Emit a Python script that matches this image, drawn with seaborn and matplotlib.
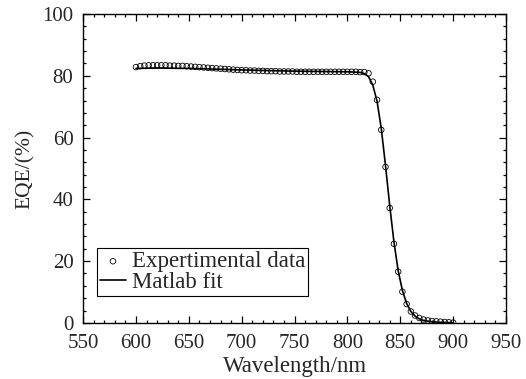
import numpy as np
import pandas as pd
import seaborn as sns
import matplotlib.pyplot as plt
from matplotlib.ticker import MultipleLocator

# measured points (every 4 nm)
wavelength = [600, 604, 608, 612, 616, 620, 624, 628, 632, 636,
              640, 644, 648, 652, 656, 660, 664, 668, 672, 676,
              680, 684, 688, 692, 696, 700, 704, 708, 712, 716,
              720, 724, 728, 732, 736, 740, 744, 748, 752, 756,
              760, 764, 768, 772, 776, 780, 784, 788, 792, 796,
              800, 804, 808, 812, 816, 820, 824, 828, 832, 836,
              840, 844, 848, 852, 856, 860, 864, 868, 872, 876,
              880, 884, 888, 892, 896, 900]
eqe = [82.8, 83.1, 83.3, 83.4, 83.4, 83.4, 83.4, 83.4, 83.3, 83.3,
       83.2, 83.2, 83.1, 83.0, 82.9, 82.8, 82.7, 82.6, 82.5, 82.4,
       82.3, 82.2, 82.1, 82.0, 81.9, 81.8, 81.8, 81.7, 81.7, 81.6,
       81.6, 81.5, 81.5, 81.5, 81.4, 81.4, 81.4, 81.4, 81.3, 81.3,
       81.3, 81.3, 81.3, 81.3, 81.3, 81.3, 81.3, 81.3, 81.3, 81.3,
       81.3, 81.3, 81.3, 81.2, 81.2, 80.8, 78.1, 72.2, 62.5, 50.5,
       37.2, 25.6, 16.6, 10.1, 6.1, 3.7, 2.4, 1.6, 1.1, 0.8,
       0.6, 0.5, 0.4, 0.3, 0.2, 0.1]

# fitted curve
fit_wl = [600, 620, 650, 700, 750, 800, 812, 816, 820, 824, 828, 832,
          836, 840, 844, 848, 852, 856, 860, 864, 868, 872, 880, 890, 900]
fit_eqe = [82.4, 82.5, 82.4, 81.9, 81.5, 81.3, 81.1, 80.7, 79.7, 77.0,
           71.8, 63.0, 51.0, 38.0, 26.2, 16.9, 10.5, 6.3, 3.7, 2.2,
           1.3, 0.8, 0.35, 0.15, 0.05]

data = pd.DataFrame({'wl': wavelength, 'eqe': eqe})
fit = pd.DataFrame({'wl': fit_wl, 'eqe': fit_eqe})

sns.set_style('ticks')
plt.rcParams['font.family'] = ['Liberation Serif', 'DejaVu Serif']

fig = plt.figure(figsize=(5.26, 3.79), dpi=100)
ax = fig.add_axes([0.158, 0.148, 0.804, 0.815])

sns.scatterplot(x='wl', y='eqe', data=data, ax=ax, marker='o', s=16,
                facecolors='none', edgecolor='black', linewidth=0.6,
                label='Expertimental data', zorder=2)
sns.lineplot(x='wl', y='eqe', data=fit, ax=ax, color='black', lw=1.2,
             label='Matlab fit', zorder=3)

ax.set_xlim(550, 950)
ax.set_ylim(0, 100)
ax.xaxis.set_major_locator(MultipleLocator(50))
ax.xaxis.set_minor_locator(MultipleLocator(10))
ax.yaxis.set_major_locator(MultipleLocator(20))
ax.yaxis.set_minor_locator(MultipleLocator(4))
ax.tick_params(which='both', direction='in', top=True, right=True,
               labelsize=15, color='black', width=0.9)
ax.tick_params(which='major', length=5)
ax.tick_params(which='minor', length=2.5)
ax.tick_params(axis='x', which='major', pad=8)
ax.tick_params(axis='y', which='major', pad=7)
for s in ax.spines.values():
    s.set_color('black')
    s.set_linewidth(1.0)

ax.set_xlabel('Wavelength/nm', fontsize=16.5, labelpad=2)
ax.set_ylabel('EQE/(%)', fontsize=15.5, labelpad=5)

leg = ax.legend(loc='lower left', bbox_to_anchor=(0.033, 0.087),
                fontsize=16.5, frameon=True, fancybox=False, framealpha=1,
                edgecolor='black', handlelength=1.15, handletextpad=0.25,
                borderpad=0.12, labelspacing=0.0, borderaxespad=0)
leg.get_frame().set_linewidth(0.8)

fig.savefig('out.png', dpi=100)
